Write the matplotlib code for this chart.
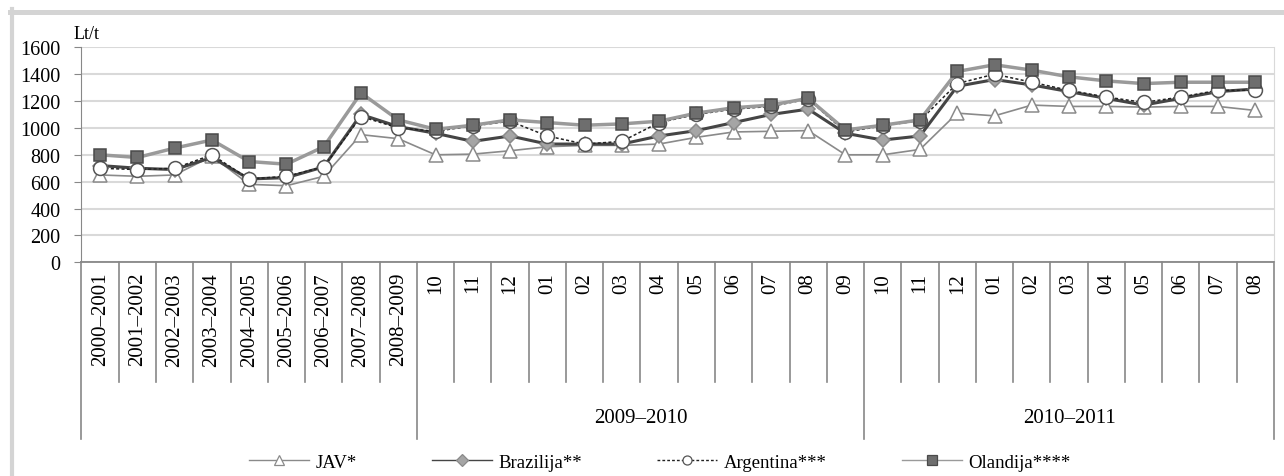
import matplotlib.pyplot as plt
from matplotlib.lines import Line2D

plt.rcParams['font.family'] = ['Liberation Serif', 'DejaVu Serif']

# categories along the x axis
years = ["2000–2001", "2001–2002", "2002–2003", "2003–2004", "2004–2005",
         "2005–2006", "2006–2007", "2007–2008", "2008–2009"]
months_0910 = ["10", "11", "12", "01", "02", "03", "04", "05", "06", "07", "08", "09"]
months_1011 = ["10", "11", "12", "01", "02", "03", "04", "05", "06", "07", "08"]
groups = ["2009–2010", "2010–2011"]
labels = years + months_0910 + months_1011

# values, Lt/t
jav = [650, 640, 650, 790, 580, 570, 640, 950, 920,
       800, 805, 830, 860, 870, 870, 880, 930, 970, 975, 980, 800,
       800, 840, 1110, 1090, 1170, 1160, 1160, 1155, 1160, 1160, 1130]
brazilija = [720, 700, 690, 780, 620, 630, 710, 1100, 1010,
             960, 900, 940, 880, 880, 880, 940, 980, 1040, 1100, 1140, 960,
             910, 940, 1310, 1360, 1320, 1270, 1220, 1170, 1220, 1270, 1290]
argentina = [700, 690, 700, 800, 620, 640, 710, 1085, 1000,
             975, 1015, 1050, 940, 880, 900, 1040, 1100, 1140, 1160, 1215, 970,
             1015, 1055, 1330, 1400, 1340, 1280, 1230, 1190, 1230, 1280, 1280]
olandija = [800, 780, 850, 910, 750, 730, 860, 1260, 1060,
            990, 1020, 1060, 1040, 1020, 1030, 1050, 1110, 1150, 1170, 1220, 985,
            1020, 1060, 1420, 1470, 1430, 1380, 1350, 1330, 1340, 1340, 1340]

W, H = 1284, 477
fig = plt.figure(figsize=(W / 100, H / 100), dpi=100)
ax = fig.add_axes([81.5 / W, 1 - 263.3 / H, (1274 - 81.5) / W, 215 / H])

x = [i + 0.5 for i in range(len(labels))]

styles = [
    dict(color='#8a8a8a', lw=1.2, marker='^', mfc='white', mec='#8a8a8a'),
    dict(color='#454545', lw=2.2, marker='D', mfc='#a5a5a5', mec='#8a8a8a'),
    dict(color='#222222', lw=1.1, ls=(0, (2, 1.5)), marker='o', mfc='white', mec='#555555'),
    dict(color='#9a9a9a', lw=2.5, marker='s', mfc='#6e6e6e', mec='#4a4a4a'),
]
names = ['JAV*', 'Brazilija**', 'Argentina***', 'Olandija****']
sizes = [10, 7.5, 10, 9]

for i, (vals, st) in enumerate(zip([jav, brazilija, argentina, olandija], styles)):
    ax.plot(x, vals, ms=sizes[i], mew=1.1, zorder=3 + i, **st)

ax.set_xlim(0, len(labels))
ax.set_ylim(0, 1600)
ax.set_yticks(range(0, 1601, 200))
ax.grid(axis='y', color='#d9d9d9', lw=1.5)
ax.set_axisbelow(True)
ax.tick_params(axis='y', length=5, color='#888888', pad=10, labelsize=14.5)
ax.set_xticks([])
ax.spines['top'].set_visible(False)
ax.spines['right'].set_color('#d9d9d9')
ax.spines['left'].set_color('#888888')
ax.spines['bottom'].set_color('#888888')
ax.spines['bottom'].set_linewidth(1.3)

ax.text(-8 / 37.27, 1640, "Lt/t", fontsize=13, ha='left', va='bottom')

# multi-level category axis below the plot
trans = ax.get_xaxis_transform()
group_edges = [0, 9, 21, 32]
for b in range(len(labels) + 1):
    low = -0.822 if b in group_edges else -0.557
    ax.plot([b, b], [0, low], color='#888888', lw=1.2, transform=trans, clip_on=False)
for xi, lab in zip(x, labels):
    ax.text(xi, -0.045, lab, rotation=90, ha='center', va='top', fontsize=15,
            transform=trans)
for g, (a, b) in zip(groups, [(9, 21), (21, 32)]):
    ax.text((a + b) / 2, -0.72, g, ha='center', va='center', fontsize=15,
            transform=trans)

# legend with thin lines and small markers, like the original
handles = []
for i, st in enumerate(styles):
    st2 = dict(st)
    st2['lw'] = 1.0
    handles.append(Line2D([], [], ms=6.5, mew=0.9, **st2))
fig.legend(handles, names, loc='center', bbox_to_anchor=(660 / W, 1 - 463 / H), ncol=4,
           frameon=False, fontsize=13.5, handlelength=3.2, handletextpad=0.35,
           columnspacing=4.0)

# grey frame at left and top
fig.add_artist(Line2D([12 / W, 12 / W], [0, 1 - 10 / H], color='#d4d4d4', lw=3,
                      transform=fig.transFigure))
fig.add_artist(Line2D([10 / W, 1], [1 - 12.5 / H, 1 - 12.5 / H], color='#d4d4d4',
                      lw=3.6, transform=fig.transFigure))

fig.savefig('out.png', dpi=100)
